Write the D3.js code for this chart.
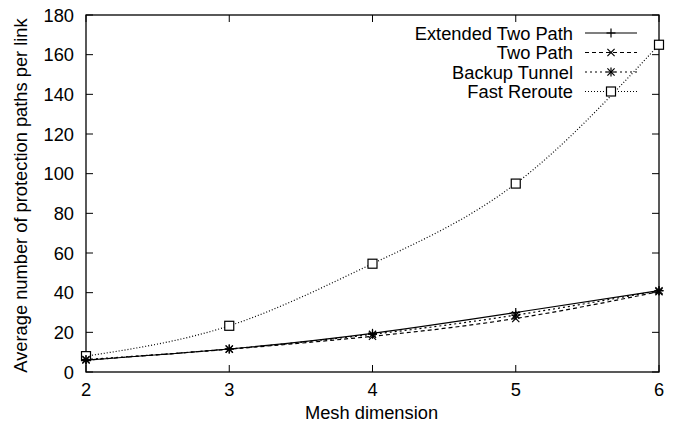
<!DOCTYPE html>
<html>
<head>
<meta charset="utf-8">
<script src="https://cdn.jsdelivr.net/npm/d3@7"></script>
<style>
  body { margin: 0; background: #fff; overflow: hidden; }
  svg { display: block; }
  svg text { font-family: "Liberation Sans", Arial, sans-serif; fill: #000; }
</style>
</head>
<body>
<svg id="chart" width="684" height="428"></svg>
<script>
// data
const dims = [2, 3, 4, 5, 6];
const extendedTwoPath = [6, 11.6, 19.5, 30, 41];
const twoPath = [6, 11.5, 18, 27, 40.5];
const backupTunnel = [6.3, 11.6, 19, 28.7, 41];
const fastReroute = [8, 23.3, 54.6, 95, 165];
const yTicks = [0, 20, 40, 60, 80, 100, 120, 140, 160, 180];

const series = [
  { name: 'Extended Two Path', values: extendedTwoPath, dash: null, marker: 'plus' },
  { name: 'Two Path', values: twoPath, dash: '4,3', marker: 'cross' },
  { name: 'Backup Tunnel', values: backupTunnel, dash: '2,3', marker: 'star' },
  { name: 'Fast Reroute', values: fastReroute, dash: '1,2', marker: 'square' }
];

const fontSize = 18.3;
const svg = d3.select('#chart');
const margin = { top: 15, right: 25, bottom: 56, left: 86 };
const width = 684, height = 428;
const innerWidth = width - margin.left - margin.right;
const innerHeight = height - margin.top - margin.bottom;
const g = svg.append('g').attr('transform', `translate(${margin.left},${margin.top})`);

const x = d3.scaleLinear().domain([2, 6]).range([0, innerWidth]);
const y = d3.scaleLinear().domain([0, 180]).range([innerHeight, 0]);

// frame
g.append('rect').attr('width', innerWidth).attr('height', innerHeight)
  .attr('fill', 'none').attr('stroke', '#000').attr('stroke-width', 1.3);

// ticks, mirrored inside the frame like gnuplot
const tickLen = 7;
yTicks.forEach(t => {
  g.append('line').attr('x1', 0).attr('x2', tickLen).attr('y1', y(t)).attr('y2', y(t)).attr('stroke', '#000');
  g.append('line').attr('x1', innerWidth).attr('x2', innerWidth - tickLen).attr('y1', y(t)).attr('y2', y(t)).attr('stroke', '#000');
  g.append('text').attr('x', -12).attr('y', y(t)).attr('dy', '0.36em')
    .attr('text-anchor', 'end').attr('font-size', fontSize).text(t);
});
dims.forEach(t => {
  g.append('line').attr('x1', x(t)).attr('x2', x(t)).attr('y1', innerHeight).attr('y2', innerHeight - tickLen).attr('stroke', '#000');
  g.append('line').attr('x1', x(t)).attr('x2', x(t)).attr('y1', 0).attr('y2', tickLen).attr('stroke', '#000');
  g.append('text').attr('x', x(t)).attr('y', innerHeight + 24)
    .attr('text-anchor', 'middle').attr('font-size', fontSize).text(t);
});

// axis titles
svg.append('text').attr('x', margin.left + innerWidth / 2 - 1).attr('y', 419)
  .attr('text-anchor', 'middle').attr('font-size', fontSize).text('Mesh dimension');
svg.append('text').attr('transform', `translate(27,${margin.top + innerHeight / 2 + 2}) rotate(-90)`)
  .attr('text-anchor', 'middle').attr('font-size', fontSize)
  .text('Average number of protection paths per link');

function drawMarker(sel, type, cx, cy) {
  const s = 4.5;
  const m = sel.append('g').attr('transform', `translate(${cx},${cy})`)
    .attr('stroke', '#000').attr('stroke-width', 1.2).attr('fill', 'none');
  if (type === 'plus' || type === 'star') {
    m.append('line').attr('x1', -s).attr('x2', s).attr('y1', 0).attr('y2', 0);
    m.append('line').attr('x1', 0).attr('x2', 0).attr('y1', -s).attr('y2', s);
  }
  if (type === 'cross' || type === 'star') {
    const c = s * 0.8;
    m.append('line').attr('x1', -c).attr('x2', c).attr('y1', -c).attr('y2', c);
    m.append('line').attr('x1', -c).attr('x2', c).attr('y1', c).attr('y2', -c);
  }
  if (type === 'square') {
    m.append('rect').attr('x', -s).attr('y', -s).attr('width', 2 * s).attr('height', 2 * s)
      .attr('fill', '#fff');
  }
}

const line = d3.line()
  .x((d, i) => x(dims[i]))
  .y(d => y(d))
  .curve(d3.curveNatural);

series.slice().reverse().forEach(s => {
  g.append('path').datum(s.values).attr('d', line)
    .attr('fill', 'none').attr('stroke', '#000').attr('stroke-width', 1.2)
    .attr('stroke-dasharray', s.dash);
});
series.slice().reverse().forEach(s => {
  s.values.forEach((v, i) => drawMarker(g, s.marker, x(dims[i]), y(v)));
});

// legend
const legend = svg.append('g');
series.forEach((s, i) => {
  const ly = 33 + i * 19.5;
  legend.append('text').attr('x', 573).attr('y', ly).attr('dy', '0.36em')
    .attr('text-anchor', 'end').attr('font-size', fontSize).text(s.name);
  legend.append('line').attr('x1', 585).attr('x2', 637).attr('y1', ly).attr('y2', ly)
    .attr('stroke', '#000').attr('stroke-width', 1.2).attr('stroke-dasharray', s.dash);
  drawMarker(legend, s.marker, 611, ly);
});
</script>
</body>
</html>
